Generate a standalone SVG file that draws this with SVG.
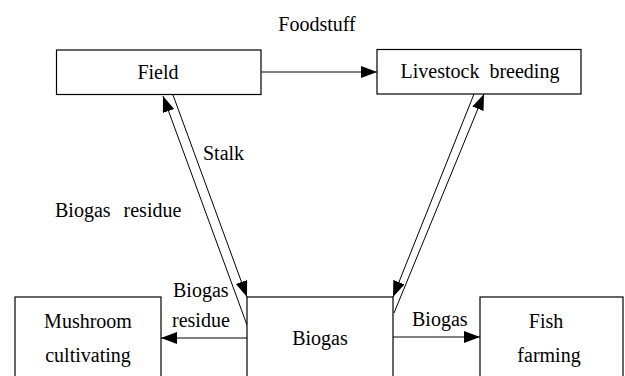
<svg xmlns="http://www.w3.org/2000/svg" width="625" height="376" viewBox="0 0 625 376" font-family="'Liberation Serif', 'DejaVu Serif', serif" font-size="20">
<style>
.box{fill:#fff;stroke:#000;stroke-width:1.2}
.ln{fill:none;stroke:#000;stroke-width:1}
.t{font-family:'Liberation Serif','DejaVu Serif',serif;font-size:20px;fill:#000}
.c{text-anchor:middle}
</style>
<defs>
<marker id="ah" markerUnits="userSpaceOnUse" markerWidth="17" markerHeight="13" refX="16" refY="6" orient="auto">
<path d="M0,0 L16,6 L0,12 z" fill="#000"/>
</marker>
</defs>
<rect width="625" height="376" fill="#fff"/>
<g id="connectors">
<line class="ln" x1="261" y1="72" x2="377" y2="72" marker-end="url(#ah)"/>
<line class="ln" x1="173" y1="95" x2="247" y2="297" marker-end="url(#ah)"/>
<line class="ln" x1="247" y1="325" x2="163" y2="96" marker-end="url(#ah)"/>
<line class="ln" x1="474" y1="94" x2="393" y2="297" marker-end="url(#ah)"/>
<line class="ln" x1="394" y1="313" x2="484" y2="94" marker-end="url(#ah)"/>
<line class="ln" x1="247" y1="338" x2="161" y2="338" marker-end="url(#ah)"/>
<line class="ln" x1="393" y1="337" x2="480" y2="337" marker-end="url(#ah)"/>
</g>
<g id="labels">
<text class="t c" x="317" y="31">Foodstuff</text>
<text class="t" x="203" y="160">Stalk</text>
<text class="t" x="55" y="217" word-spacing="8">Biogas residue</text>
<text class="t" x="173" y="297">Biogas</text>
<text class="t" x="172" y="327">residue</text>
<text class="t" x="412" y="326">Biogas</text>
</g>
<g id="field">
<rect class="box" x="56.5" y="50" width="204.5" height="44.5"/>
<text class="t c" x="158" y="79">Field</text>
</g>
<g id="livestock">
<rect class="box" x="377" y="49.5" width="204" height="44.5"/>
<text class="t c" x="480" y="78" word-spacing="5">Livestock breeding</text>
</g>
<g id="mushroom">
<rect class="box" x="15" y="297" width="146" height="100"/>
<text class="t c" x="88" y="328">Mushroom</text>
<text class="t c" x="88" y="362">cultivating</text>
</g>
<g id="biogas">
<rect class="box" x="247" y="297" width="146" height="100"/>
<text class="t c" x="320" y="345">Biogas</text>
</g>
<g id="fish">
<rect class="box" x="480" y="297" width="143" height="100"/>
<text class="t c" x="546" y="328">Fish</text>
<text class="t c" x="549" y="362">farming</text>
</g>
</svg>
